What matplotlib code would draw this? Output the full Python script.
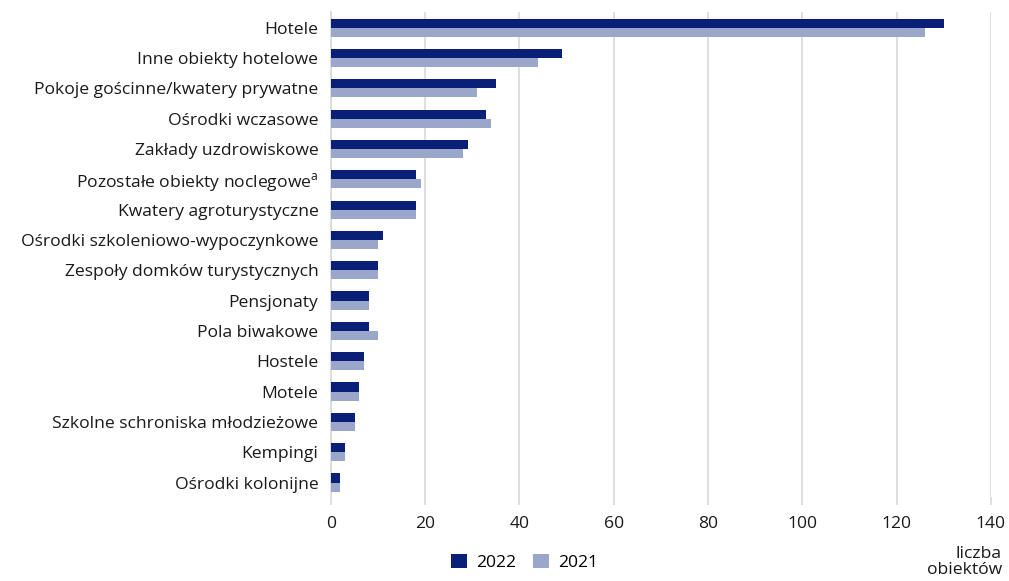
import matplotlib.pyplot as plt
import numpy as np

plt.rcParams['font.family'] = ['Open Sans', 'DejaVu Sans']

categories = [
    "Hotele",
    "Inne obiekty hotelowe",
    "Pokoje gościnne/kwatery prywatne",
    "Ośrodki wczasowe",
    "Zakłady uzdrowiskowe",
    "Pozostałe obiekty noclegowe$^{\\mathregular{a}}$",
    "Kwatery agroturystyczne",
    "Ośrodki szkoleniowo-wypoczynkowe",
    "Zespoły domków turystycznych",
    "Pensjonaty",
    "Pola biwakowe",
    "Hostele",
    "Motele",
    "Szkolne schroniska młodzieżowe",
    "Kempingi",
    "Ośrodki kolonijne",
]
values_2022 = [130, 49, 35, 33, 29, 18, 18, 11, 10, 8, 8, 7, 6, 5, 3, 2]
values_2021 = [126, 44, 31, 34, 28, 19, 18, 10, 10, 8, 10, 7, 6, 5, 3, 2]
xticks = [0, 20, 40, 60, 80, 100, 120, 140]

dark = "#0a1f78"
light = "#9aa7cb"
grid = "#d9d9d9"
fs = 12.6

fig = plt.figure(figsize=(10.09, 5.81), dpi=100)
ax = fig.add_axes([0.328, 0.145, 0.654, 0.835])

y = np.arange(len(categories))
h = 0.3
ax.barh(y - h / 2, values_2022, height=h, color=dark, label="2022", zorder=3)
ax.barh(y + h / 2, values_2021, height=h, color=light, label="2021", zorder=3)

ax.set_ylim(15.47, -0.53)
ax.set_xlim(0, 140)
ax.set_xticks(xticks)
ax.set_yticks(y)
ax.set_yticklabels(categories, fontsize=fs, color="#1a1a1a")
ax.tick_params(axis="y", length=0, pad=9)
ax.tick_params(axis="x", length=6, color=grid, width=1.2, labelsize=fs,
               labelcolor="#1a1a1a", pad=8)
ax.xaxis.grid(True, color=grid, linewidth=1.2, zorder=0)
for s in ["top", "right", "bottom"]:
    ax.spines[s].set_visible(False)
ax.spines["left"].set_color(grid)
ax.spines["left"].set_linewidth(1.2)

ax.legend(loc="center", bbox_to_anchor=(0.52, 0.032), bbox_transform=fig.transFigure,
          ncol=2, frameon=False, fontsize=fs, handlelength=0.9, handleheight=0.9,
          columnspacing=1.0, handletextpad=0.5)

fig.text(0.993, 0.005, "liczba\nobiektów", ha="right", va="bottom", fontsize=fs,
         color="#1a1a1a", linespacing=1.0, multialignment="right")

fig.savefig("out.png", dpi=100)
